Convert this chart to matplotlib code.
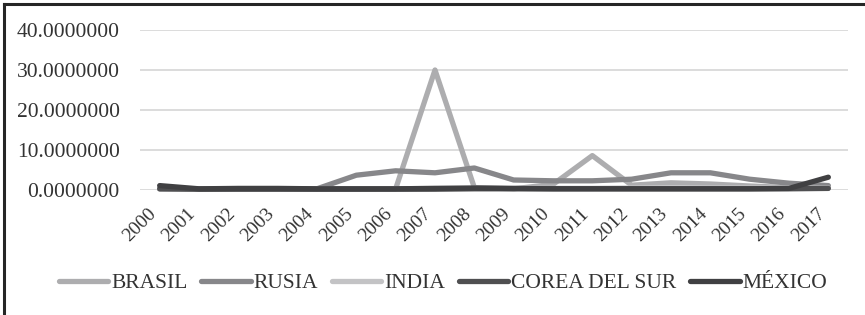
import matplotlib
matplotlib.use("Agg")
import matplotlib.pyplot as plt
from matplotlib.lines import Line2D
from matplotlib.transforms import ScaledTranslation

years = [str(y) for y in range(2000, 2018)]
brasil = [0.3, 0.2, 0.2, 0.2, 0.2, 0.2, 0.3, 30.0, 0.6, 0.3, 1.4, 8.6, 1.2, 1.8, 1.5, 1.0, 0.6, 0.5]
rusia = [0.3, 0.3, 0.3, 0.3, 0.3, 3.7, 4.8, 4.3, 5.5, 2.5, 2.3, 2.3, 2.7, 4.3, 4.3, 2.7, 1.7, 1.1]
india = [0.3, 0.3, 0.3, 0.3, 0.3, 0.3, 0.3, 0.4, 0.4, 0.4, 0.4, 0.4, 0.5, 0.6, 0.5, 0.5, 0.5, 0.5]
corea = [0.3, 0.2, 0.2, 0.2, 0.2, 0.2, 0.2, 0.2, 0.3, 0.3, 0.3, 0.3, 0.3, 0.3, 0.3, 0.3, 0.3, 0.4]
mexico = [1.1, 0.3, 0.4, 0.4, 0.3, 0.3, 0.3, 0.4, 0.5, 0.4, 0.3, 0.3, 0.3, 0.3, 0.3, 0.3, 0.4, 3.2]

series = [
    ("BRASIL", brasil, "#ADADAF"),
    ("RUSIA", rusia, "#87878A"),
    ("INDIA", india, "#C3C3C5"),
    ("COREA DEL SUR", corea, "#4F4F51"),
    ("MÉXICO", mexico, "#404042"),
]

plt.rcParams['font.family'] = ['Liberation Serif', 'DejaVu Serif']
text_color = "#333333"

fig = plt.figure(figsize=(8.65, 3.15), dpi=100)
ax = fig.add_axes([140/865, 1-190/315, (848-140)/865, 160/315])

x = list(range(len(years)))
for name, vals, col in series:
    ax.plot(x, vals, color=col, lw=3.8, label=name, solid_capstyle='round',
            solid_joinstyle='round', clip_on=False)

ax.set_xlim(-0.5, len(years) - 0.5)
ax.set_ylim(0, 40)
ax.set_yticks([0, 10, 20, 30, 40])
ax.set_yticklabels([f"{v:.7f}" for v in [0, 10, 20, 30, 40]], fontsize=15.5, color=text_color)
ax.set_xticks(x)
ax.set_xticklabels(years, rotation=45, ha='right', rotation_mode='default', fontsize=14, color=text_color)
off = ScaledTranslation(4/100, 0, fig.dpi_scale_trans)
for lab in ax.get_xticklabels():
    lab.set_transform(lab.get_transform() + off)
ax.tick_params(axis='y', length=0, pad=14.5)
ax.tick_params(axis='x', length=0, pad=11)
ax.grid(axis='y', color='#D9D9D9', lw=1.3)
ax.set_axisbelow(True)
for s in ax.spines.values():
    s.set_visible(False)

leg = fig.legend(loc='center', bbox_to_anchor=(443/865, 1-283/315), ncol=5, frameon=False,
                 fontsize=15.5, handlelength=2.3, handletextpad=0.12, columnspacing=0.65,
                 labelcolor=text_color)

fig.add_artist(Line2D([4/865, 4/865], [0, 1-4/315], color="#262626", lw=2.2, transform=fig.transFigure))
fig.add_artist(Line2D([4/865, 1], [1-4/315, 1-4/315], color="#262626", lw=2.2, transform=fig.transFigure))

fig.savefig("out.png", dpi=100)
